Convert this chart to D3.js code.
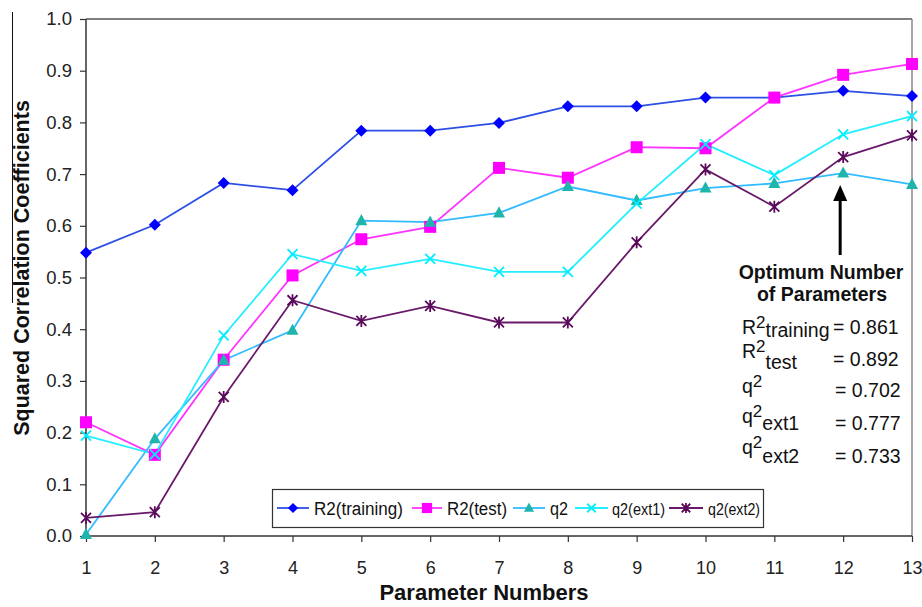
<!DOCTYPE html>
<html>
<head>
<meta charset="utf-8">
<script src="https://cdn.jsdelivr.net/npm/d3@7"></script>
<style>
  html, body { margin: 0; padding: 0; background: #fff; }
  svg { display: block; font-family: "Liberation Sans", Arial, sans-serif; }
</style>
</head>
<body>
<svg id="chart" width="922" height="607"></svg>
<script>
// Parameter counts on the x axis
const paramNumbers = [1, 2, 3, 4, 5, 6, 7, 8, 9, 10, 11, 12, 13];

// Squared correlation coefficients per model size
const r2Training = [0.548, 0.602, 0.683, 0.669, 0.784, 0.784, 0.799, 0.831, 0.831, 0.848, 0.848, 0.861, 0.851];
const r2Test     = [0.220, 0.157, 0.341, 0.504, 0.574, 0.598, 0.712, 0.693, 0.752, 0.750, 0.848, 0.892, 0.913];
const q2         = [0.003, 0.188, 0.340, 0.398, 0.610, 0.607, 0.625, 0.676, 0.649, 0.673, 0.682, 0.702, 0.680];
const q2Ext1     = [0.194, 0.158, 0.388, 0.545, 0.513, 0.536, 0.511, 0.511, 0.643, 0.758, 0.698, 0.777, 0.812];
const q2Ext2     = [0.035, 0.046, 0.269, 0.456, 0.416, 0.445, 0.413, 0.413, 0.568, 0.709, 0.637, 0.733, 0.775];

const yTicks = [0, 0.1, 0.2, 0.3, 0.4, 0.5, 0.6, 0.7, 0.8, 0.9, 1.0];
const optimumIndex = 11; // 12 parameters

const series = [
  { name: "R2(training)", values: r2Training, line: "#2d4fe6", fill: "#0000ff", shape: "diamond" },
  { name: "R2(test)",     values: r2Test,     line: "#ff33ff", fill: "#ff00ff", shape: "square" },
  { name: "q2",           values: q2,         line: "#33bbff", fill: "#1fb5ad", shape: "triangle" },
  { name: "q2(ext1)",     values: q2Ext1,     line: "#22eeff", fill: "#00eeff", shape: "cross" },
  { name: "q2(ext2)",     values: q2Ext2,     line: "#6a1a6a", fill: "#5a0a5a", shape: "asterisk" }
];

const svg = d3.select("#chart");
const plotLeft = 86, plotRight = 912, plotTop = 19, plotBottom = 536;

const x = d3.scaleLinear().domain([1, 13]).range([plotLeft, plotRight]);
const y = d3.scaleLinear().domain([0, 1]).range([plotBottom, plotTop]);

// Y title with its rule
svg.append("line")
  .attr("x1", 12.5).attr("x2", 12.5).attr("y1", 12).attr("y2", 303)
  .attr("stroke", "#111").attr("stroke-width", 1);
svg.append("text")
  .attr("transform", `translate(29,268) rotate(-90)`)
  .attr("text-anchor", "middle")
  .attr("font-size", 21.5).attr("font-weight", "bold").attr("fill", "#111")
  .text("Squared Correlation Coefficients");

// X title
svg.append("text")
  .attr("x", 484).attr("y", 600)
  .attr("text-anchor", "middle")
  .attr("font-size", 22).attr("font-weight", "bold").attr("fill", "#111")
  .text("Parameter Numbers");

// Frame: top and right borders
svg.append("line").attr("x1", plotLeft).attr("x2", plotRight).attr("y1", plotTop).attr("y2", plotTop)
  .attr("stroke", "#555").attr("stroke-width", 1.5);
svg.append("line").attr("x1", plotRight).attr("x2", plotRight).attr("y1", plotTop).attr("y2", plotBottom)
  .attr("stroke", "#888").attr("stroke-width", 1.5);

// Axes
const yAxis = d3.axisLeft(y).tickValues(yTicks).tickFormat(d3.format(".1f")).tickSize(6).tickPadding(8);
const gy = svg.append("g").attr("transform", `translate(${plotLeft},0)`).call(yAxis);
const xAxis = d3.axisBottom(x).tickValues(paramNumbers).tickFormat(d3.format("d")).tickSize(6).tickPadding(19);
const gx = svg.append("g").attr("transform", `translate(0,${plotBottom})`).call(xAxis);
[gy, gx].forEach(g => {
  g.select(".domain").attr("stroke", "#333").attr("stroke-width", 1.5);
  g.selectAll(".tick line").attr("stroke", "#333").attr("stroke-width", 1.2);
  g.selectAll(".tick text").attr("font-size", 18.5).attr("fill", "#222")
    .attr("font-family", "'Liberation Sans', Arial, sans-serif");
});
gx.selectAll(".tick text").attr("font-size", 18);
gx.select(".domain").attr("d", `M${plotLeft},0H${plotRight}`);
gy.select(".domain").attr("d", `M0,${plotBottom}V${plotTop}`);

// Marker drawing
function marker(g, shape, fill, s) {
  if (shape === "diamond") {
    g.append("path").attr("d", `M0,${-s}L${s},0L0,${s}L${-s},0Z`).attr("fill", fill);
  } else if (shape === "square") {
    g.append("rect").attr("x", -s).attr("y", -s).attr("width", 2 * s).attr("height", 2 * s).attr("fill", fill);
  } else if (shape === "triangle") {
    g.append("path").attr("d", `M0,${-s * 1.1}L${s},${s * 0.75}L${-s},${s * 0.75}Z`).attr("fill", fill);
  } else if (shape === "cross") {
    g.append("path").attr("d", `M${-s},${-s}L${s},${s}M${-s},${s}L${s},${-s}`)
      .attr("stroke", fill).attr("stroke-width", 1.8).attr("fill", "none");
  } else if (shape === "asterisk") {
    g.append("path").attr("d", `M${-s},${-s}L${s},${s}M${-s},${s}L${s},${-s}M0,${-s * 1.2}V${s * 1.2}`)
      .attr("stroke", fill).attr("stroke-width", 1.8).attr("fill", "none");
  }
}

const markerSize = { diamond: 6, square: 6, triangle: 6, cross: 5, asterisk: 5 };

const lineGen = d3.line().x((d, i) => x(paramNumbers[i])).y(d => y(d));
const plot = svg.append("g");
series.forEach(s => {
  plot.append("path").datum(s.values)
    .attr("d", lineGen).attr("fill", "none")
    .attr("stroke", s.line).attr("stroke-width", 1.8);
});
series.forEach(s => {
  plot.selectAll(null).data(s.values).enter().append("g")
    .attr("transform", (d, i) => `translate(${x(paramNumbers[i])},${y(d)})`)
    .each(function () { marker(d3.select(this), s.shape, s.fill, markerSize[s.shape]); });
});

// Optimum arrow
const ax = x(paramNumbers[optimumIndex]) - 3;
svg.append("line").attr("x1", ax).attr("x2", ax).attr("y1", 198).attr("y2", 255)
  .attr("stroke", "#000").attr("stroke-width", 3);
svg.append("path").attr("d", `M${ax},185L${ax + 7},201L${ax - 7},201Z`).attr("fill", "#000");

const note = svg.append("g").attr("fill", "#111");
note.append("text").attr("x", 821).attr("y", 279).attr("text-anchor", "middle")
  .attr("font-size", 19.5).attr("font-weight", "bold").text("Optimum Number");
note.append("text").attr("x", 822).attr("y", 301).attr("text-anchor", "middle")
  .attr("font-size", 19.5).attr("font-weight", "bold").text("of Parameters");

const stats = [
  { base: "R", sub: "training", value: r2Training[optimumIndex], by: 334, sy: 337, vx: 833, vy: 334 },
  { base: "R", sub: "test",     value: r2Test[optimumIndex],     by: 358, sy: 369, vx: 833, vy: 366 },
  { base: "q", sub: "",         value: q2[optimumIndex],         by: 393, sy: 393, vx: 835, vy: 397 },
  { base: "q", sub: "ext1",     value: q2Ext1[optimumIndex],     by: 423, sy: 430, vx: 835, vy: 430 },
  { base: "q", sub: "ext2",     value: q2Ext2[optimumIndex],     by: 454, sy: 463, vx: 835, vy: 463 }
];
stats.forEach(st => {
  const t = note.append("text").attr("x", 742).attr("y", st.by).attr("font-size", 19.5);
  t.append("tspan").text(st.base);
  t.append("tspan").attr("dy", -6).attr("font-size", 17).text("2");
  if (st.sub) {
    t.append("tspan").attr("dy", 6 + (st.sy - st.by)).attr("font-size", 19.5).text(st.sub);
  }
  note.append("text").attr("x", st.vx).attr("y", st.vy).attr("font-size", 19.5)
    .text("= " + d3.format(".3f")(st.value));
});

// Legend
const legend = svg.append("g");
legend.append("rect").attr("x", 272.5).attr("y", 489.5).attr("width", 491).attr("height", 38)
  .attr("fill", "#fff").attr("stroke", "#333").attr("stroke-width", 1.2);
const legendPos = [
  { x1: 277, x2: 309, tx: 314, tw: 89, fs: 18 },
  { x1: 412, x2: 442, tx: 447, tw: 60, fs: 18 },
  { x1: 513, x2: 545, tx: 550, tw: 18, fs: 18 },
  { x1: 575, x2: 608, tx: 612, tw: 53, fs: 17 },
  { x1: 669, x2: 703, tx: 708, tw: 52, fs: 17 }
];
series.forEach((s, i) => {
  const p = legendPos[i];
  const ly = 508;
  legend.append("line").attr("x1", p.x1).attr("x2", p.x2).attr("y1", ly).attr("y2", ly)
    .attr("stroke", s.line).attr("stroke-width", 1.8);
  const mg = legend.append("g").attr("transform", `translate(${(p.x1 + p.x2) / 2},${ly})`);
  marker(mg, s.shape, s.fill, markerSize[s.shape] * 0.85);
  legend.append("text").attr("x", p.tx).attr("y", 514.5).attr("font-size", p.fs)
    .attr("textLength", p.tw).attr("lengthAdjust", "spacingAndGlyphs")
    .attr("fill", "#111").text(s.name);
});
</script>
</body>
</html>
